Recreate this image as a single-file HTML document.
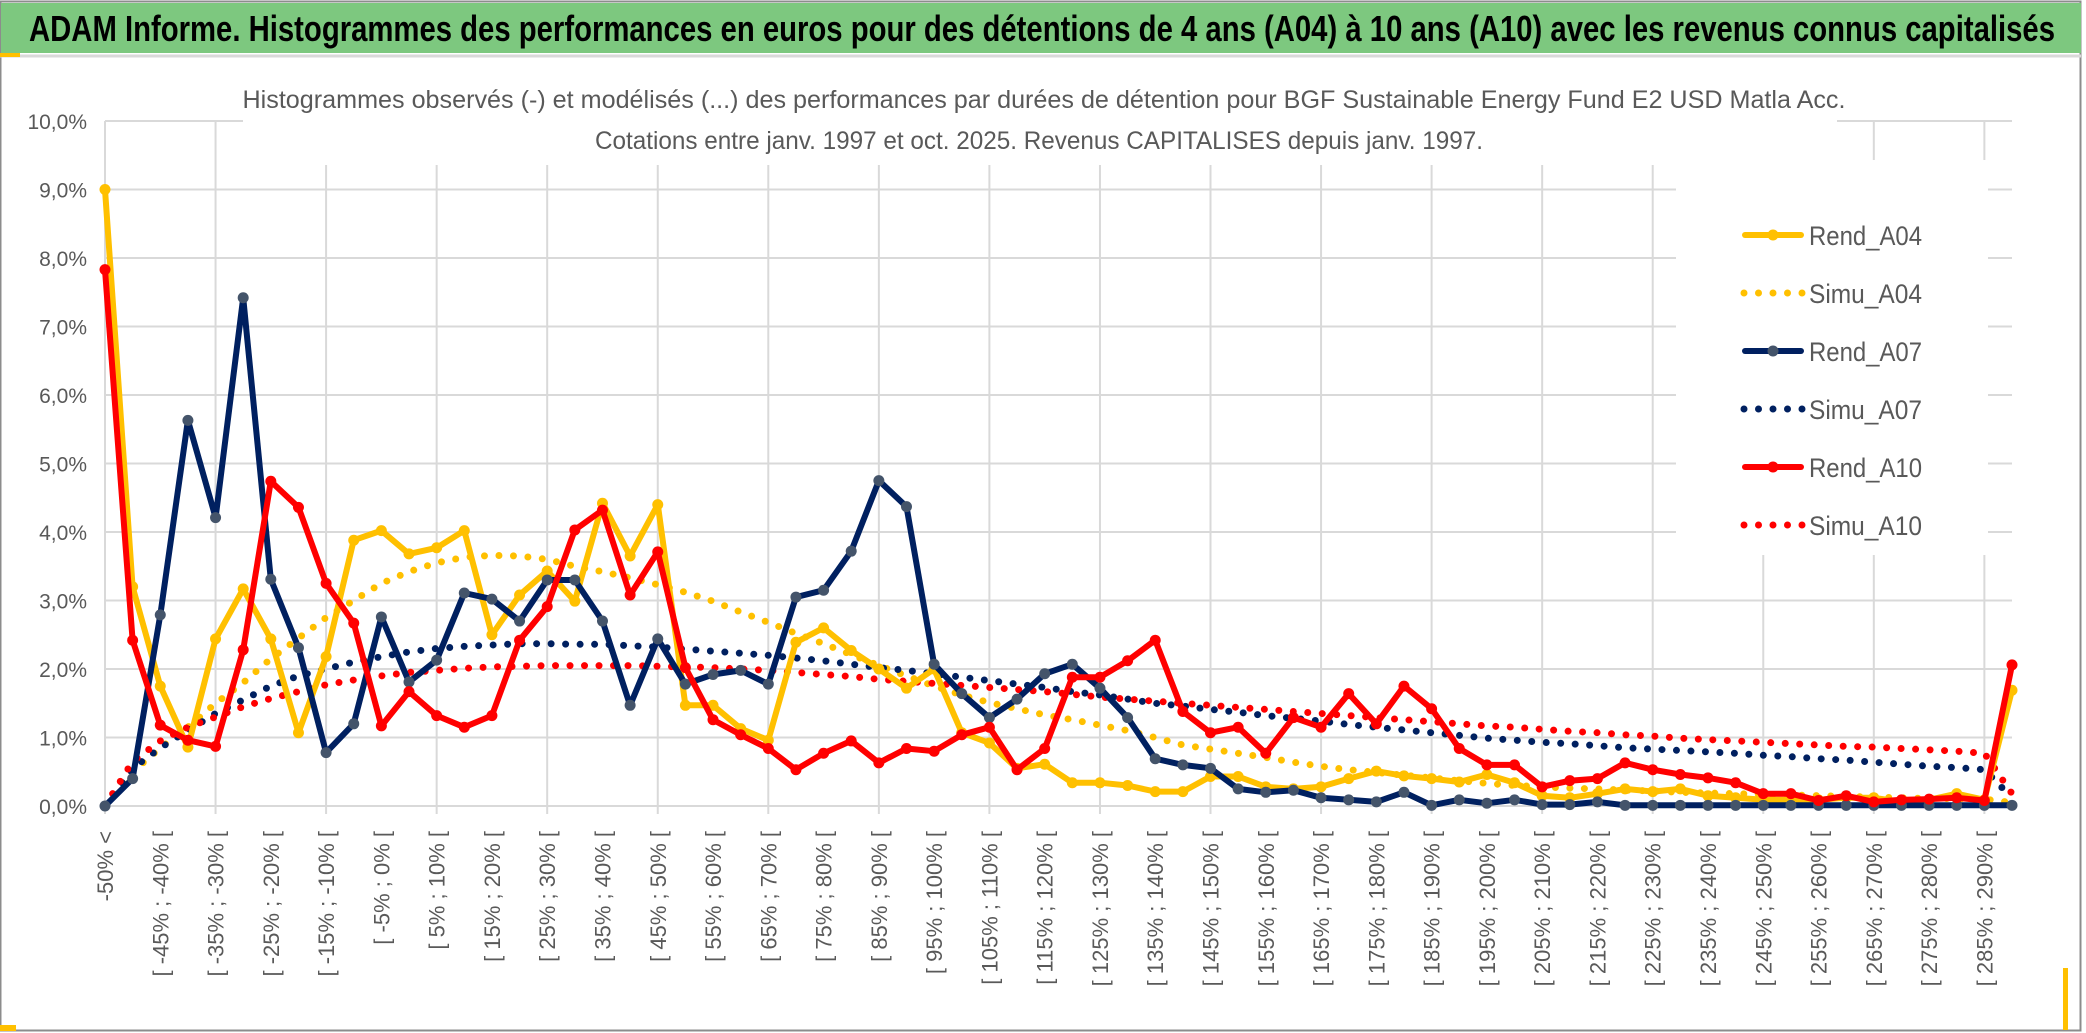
<!DOCTYPE html>
<html><head><meta charset="utf-8"><style>
html,body{margin:0;padding:0;background:#fff;}
svg{display:block;font-family:"Liberation Sans",sans-serif;}
</style></head><body>
<svg id="chart" width="2086" height="1033" viewBox="0 0 2086 1033" xmlns="http://www.w3.org/2000/svg">
<rect x="0" y="0" width="2086" height="1033" fill="#fff"/>
<rect x="0.5" y="1.5" width="2080" height="1029" fill="none" stroke="#8c8c8c" stroke-width="2"/>
<rect x="1" y="3" width="2080" height="50" fill="#7DC87F"/>
<line x1="0" y1="56" x2="2081" y2="56" stroke="#d9d9d9" stroke-width="3"/>
<text x="29" y="41" font-size="36" font-weight="bold" fill="#000" textLength="2026" lengthAdjust="spacingAndGlyphs">ADAM Informe. Histogrammes des performances en euros pour des détentions de 4 ans (A04) à 10 ans (A10) avec les revenus connus capitalisés</text>
<rect x="0" y="53" width="20" height="4" fill="#FFC000"/>
<rect x="0" y="1025" width="16" height="6" fill="#FFC000"/>
<rect x="2063" y="968" width="5" height="62" fill="#FFC000"/>
<g id="grid"></g>
<rect x="243" y="60" width="1594" height="105" fill="#fff"/>
<rect x="1676" y="160" width="312" height="395" fill="#fff"/>
<text x="1044" y="108" font-size="25" fill="#595959" text-anchor="middle" textLength="1603" lengthAdjust="spacingAndGlyphs">Histogrammes observés (-) et modélisés (...) des performances par durées de détention pour BGF Sustainable Energy Fund E2 USD Matla Acc.</text>
<text x="1039" y="149" font-size="25" fill="#595959" text-anchor="middle" textLength="888" lengthAdjust="spacingAndGlyphs">Cotations entre janv. 1997 et oct. 2025. Revenus CAPITALISES depuis janv. 1997.</text>
<g id="yaxis"></g>
<g id="xaxis"></g>
<g id="series"></g>
<g id="legend"></g>
</svg>
<script>
const categories = (function(){const a=["-50% <"];for(let i=1;i<70;i++){const lo=-55+5*i;a.push("[ "+lo+"% ; "+(lo+5)+"% [");}return a;})();
const yTicks = [0,1,2,3,4,5,6,7,8,9,10];
const rendA04 = [9.0,3.2,1.75,0.86,2.44,3.17,2.44,1.07,2.18,3.88,4.02,3.68,3.77,4.02,2.5,3.08,3.43,2.99,4.42,3.65,4.40,1.47,1.47,1.13,0.96,2.39,2.6,2.27,2.0,1.72,2.0,1.07,0.92,0.55,0.61,0.34,0.34,0.3,0.21,0.21,0.43,0.43,0.28,0.25,0.28,0.4,0.51,0.44,0.4,0.35,0.46,0.34,0.15,0.12,0.18,0.25,0.21,0.25,0.15,0.12,0.09,0.09,0.09,0.12,0.12,0.06,0.09,0.18,0.09,1.69];
const simuA04 = [0,0.5,0.85,1.15,1.5,1.8,2.15,2.45,2.75,3.0,3.25,3.42,3.55,3.63,3.66,3.65,3.6,3.5,3.42,3.33,3.23,3.12,2.99,2.83,2.68,2.52,2.37,2.21,2.05,1.9,1.75,1.62,1.51,1.42,1.33,1.26,1.18,1.1,1.0,0.89,0.83,0.77,0.71,0.64,0.58,0.53,0.49,0.45,0.41,0.37,0.33,0.3,0.28,0.26,0.25,0.23,0.22,0.2,0.19,0.18,0.17,0.16,0.15,0.14,0.13,0.12,0.11,0.11,0.1,0.05];
const rendA07 = [0,0.4,2.79,5.63,4.21,7.42,3.31,2.31,0.78,1.2,2.76,1.81,2.13,3.11,3.02,2.7,3.3,3.3,2.7,1.47,2.44,1.78,1.92,1.98,1.78,3.05,3.15,3.72,4.75,4.37,2.07,1.64,1.29,1.56,1.93,2.07,1.72,1.29,0.69,0.6,0.55,0.25,0.2,0.23,0.12,0.09,0.06,0.2,0.01,0.09,0.04,0.09,0.02,0.02,0.06,0.01,0.01,0.01,0.01,0.01,0.01,0.01,0.01,0.01,0.01,0.01,0.01,0.01,0.01,0.01];
const simuA07 = [0,0.55,0.85,1.1,1.35,1.55,1.75,1.9,2.0,2.1,2.18,2.25,2.3,2.33,2.35,2.37,2.37,2.36,2.36,2.34,2.32,2.29,2.26,2.23,2.2,2.16,2.12,2.07,2.02,1.98,1.93,1.88,1.83,1.78,1.73,1.67,1.62,1.56,1.5,1.46,1.41,1.37,1.32,1.28,1.24,1.19,1.15,1.11,1.07,1.03,0.99,0.96,0.93,0.91,0.88,0.85,0.83,0.81,0.79,0.77,0.74,0.72,0.69,0.67,0.64,0.61,0.58,0.56,0.53,0.12];
const rendA10 = [7.83,2.42,1.18,0.96,0.87,2.28,4.74,4.36,3.25,2.67,1.17,1.67,1.32,1.15,1.32,2.42,2.91,4.03,4.32,3.08,3.71,2.02,1.26,1.04,0.84,0.53,0.77,0.95,0.63,0.84,0.8,1.04,1.15,0.53,0.84,1.88,1.88,2.12,2.42,1.38,1.07,1.15,0.77,1.29,1.15,1.64,1.2,1.75,1.42,0.84,0.6,0.6,0.28,0.37,0.4,0.63,0.53,0.46,0.41,0.34,0.18,0.18,0.08,0.15,0.06,0.09,0.1,0.12,0.08,2.06];
const simuA10 = [0,0.65,0.95,1.15,1.3,1.45,1.57,1.67,1.77,1.84,1.9,1.95,1.98,2.01,2.03,2.04,2.05,2.05,2.05,2.05,2.04,2.03,2.02,2.0,1.98,1.95,1.92,1.89,1.85,1.82,1.79,1.76,1.73,1.7,1.67,1.63,1.59,1.56,1.53,1.5,1.47,1.44,1.41,1.38,1.35,1.32,1.29,1.26,1.23,1.2,1.17,1.15,1.12,1.09,1.07,1.04,1.02,0.99,0.97,0.95,0.93,0.91,0.89,0.87,0.86,0.84,0.82,0.8,0.77,0.18];
const seriesNames = ["Rend_A04","Simu_A04","Rend_A07","Simu_A07","Rend_A10","Simu_A10"];

const NS="http://www.w3.org/2000/svg";
const X0=105, X1=2012, Y0=806, Y10=121;
function xScale(i){return X0+(X1-X0)*i/(categories.length-1);}
function yScale(v){return Y0-(Y0-Y10)*v/10;}
function mk(tag,attrs,parent){const e=document.createElementNS(NS,tag);for(const k in attrs)e.setAttribute(k,attrs[k]);parent.appendChild(e);return e;}

const grid=document.getElementById('grid');
yTicks.forEach(t=>{
  const l=mk('line',{x1:X0,x2:X1,y1:yScale(t),y2:yScale(t),stroke:'#d9d9d9','stroke-width':2},grid);
  
  
});
for(let i=0;i<categories.length;i+=4){
  const l=mk('line',{x1:xScale(i),x2:xScale(i),y1:Y10,y2:Y0+8,stroke:'#d9d9d9','stroke-width':2},grid);
  
  
}
const ya=document.getElementById('yaxis');
yTicks.forEach(t=>{
  const tx=mk('text',{x:87,y:yScale(t)+8,'font-size':21,fill:'#595959','text-anchor':'end'},ya);
  tx.textContent=t.toFixed(1).replace('.',',')+'%';
  
  
});
const xa=document.getElementById('xaxis');
for(let i=0;i<categories.length;i+=2){
  const x=xScale(i)+8, y=831;
  const tx=mk('text',{x:x,y:y,'font-size':22,fill:'#595959','text-anchor':'end',transform:'rotate(-90 '+x+' '+y+')'},xa);
  tx.textContent=categories[i];
  
  
}
const S=document.getElementById('series');
function pts(arr){return arr.map((v,i)=>xScale(i).toFixed(1)+','+yScale(v).toFixed(1)).join(' ');}
function dotted(arr,color,name){
  const p=mk('polyline',{points:pts(arr),fill:'none',stroke:color,'stroke-width':7,'stroke-linecap':'round','stroke-dasharray':'0 14.5'},S);
  
  
}
function solid(arr,color,mcolor,name){
  const g=mk('g',{},S);
  
  
  mk('polyline',{points:pts(arr),fill:'none',stroke:color,'stroke-width':6,'stroke-linejoin':'round'},g);
  arr.forEach((v,i)=>{
    const c=mk('circle',{cx:xScale(i),cy:yScale(v),r:5.5,fill:mcolor},g);
    
    
  });
}
dotted(simuA04,'#FFC000','simu-a04-line');
dotted(simuA07,'#002060','simu-a07-line');
dotted(simuA10,'#FF0000','simu-a10-line');
solid(rendA04,'#FFC000','#FFC000','rend-a04-line');
solid(rendA07,'#002060','#44546A','rend-a07-line');
solid(rendA10,'#FF0000','#FF0000','rend-a10-line');

const L=document.getElementById('legend');
const colors=['#FFC000','#FFC000','#002060','#002060','#FF0000','#FF0000'];
const mcols=['#FFC000','','#44546A','','#FF0000',''];
seriesNames.forEach((n,k)=>{
  const y=235+k*58;
  const g=mk('g',{},L);
  
  
  if(k%2===0){
    mk('line',{x1:1745,x2:1801,y1:y,y2:y,stroke:colors[k],'stroke-width':6,'stroke-linecap':'round'},g);
    mk('circle',{cx:1773,cy:y,r:5.5,fill:mcols[k]},g);
  } else {
    mk('line',{x1:1744,x2:1803,y1:y,y2:y,stroke:colors[k],'stroke-width':7,'stroke-linecap':'round','stroke-dasharray':'0 14.5'},g);
  }
  const t=mk('text',{x:1809,y:y+10,'font-size':27,fill:'#595959',textLength:113,lengthAdjust:'spacingAndGlyphs'},g);
  t.textContent=n;
});
</script>
</body></html>
